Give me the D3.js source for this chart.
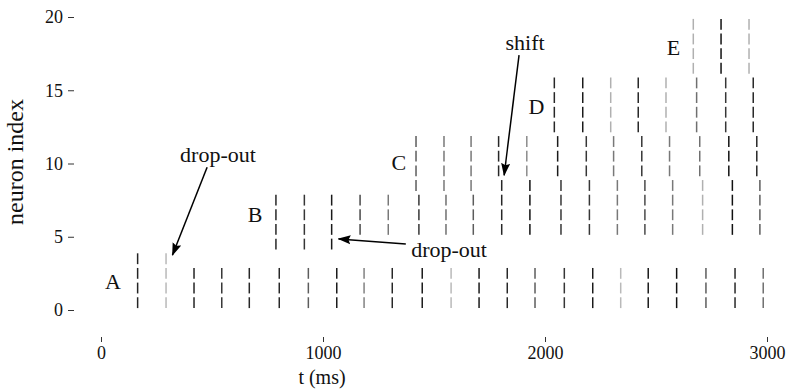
<!DOCTYPE html>
<html>
<head>
<meta charset="utf-8">
<script src="https://cdn.jsdelivr.net/npm/d3@7"></script>
<style>
  html, body { margin: 0; padding: 0; background: #fff; }
  svg { display: block; }
  svg text { font-family: "Liberation Serif", "DejaVu Serif", serif; }
</style>
</head>
<body>
<svg id="chart" width="790" height="392"></svg>
<script>
// Spike times (ms) of each synchronous group and the strength of every volley
const groupNames = ["A", "B", "C", "D", "E"];

const spikesA = [165, 293, 419, 544, 668, 803, 934, 1062, 1185, 1312, 1447, 1577,
                 1703, 1830, 1955, 2087, 2215, 2341, 2465, 2593, 2725, 2856, 2983];
const strengthA = [0.9, 0.1, 0.9, 0.8, 0.88, 0.88, 0.6, 0.95, 0.4, 0.88, 0.95, 0.1,
                   0.95, 0.88, 0.6, 0.8, 0.95, 0.1, 0.95, 1.0, 0.6, 0.88, 0.5];

const spikesB = [788, 916, 1039, 1167, 1294, 1432, 1554, 1677, 1805, 1932, 2072,
                 2200, 2326, 2450, 2575, 2710, 2844, 2968];
const strengthB = [0.88, 0.8, 0.95, 0.7, 0.45, 0.8, 0.5, 0.6, 0.88, 1.0, 0.8,
                   0.8, 0.45, 0.7, 0.45, 0.15, 1.0, 0.6];

const spikesC = [1419, 1545, 1667, 1791, 1918, 2057, 2186, 2309, 2436, 2561, 2697, 2828, 2954];
const strengthC = [0.6, 0.45, 0.45, 0.88, 0.35, 0.95, 0.8, 0.45, 0.8, 0.45, 0.5, 1.0, 0.88];

const spikesD = [2042, 2170, 2296, 2420, 2545, 2683, 2814, 2938];
const strengthD = [0.88, 0.95, 0.15, 0.88, 0.15, 0.5, 0.8, 0.88];

const spikesE = [2668, 2793, 2919];
const strengthE = [0.15, 1.0, 0.15];

// Which group each neuron follows, and during which time window (ms)
const membership = [
  { neuron: 0, group: "A" }, { neuron: 1, group: "A" }, { neuron: 2, group: "A" },
  { neuron: 3, group: "A", until: 350 },            // drop-out
  { neuron: 4, group: "B", until: 1100 },           // drop-out
  { neuron: 5, group: "B" }, { neuron: 6, group: "B" }, { neuron: 7, group: "B" },
  { neuron: 8, group: "C", until: 1750 },           // shift ...
  { neuron: 8, group: "B", from: 1750 },            // ... onto group B
  { neuron: 9, group: "C" }, { neuron: 10, group: "C" }, { neuron: 11, group: "C" },
  { neuron: 12, group: "D" }, { neuron: 13, group: "D" }, { neuron: 14, group: "D" }, { neuron: 15, group: "D" },
  { neuron: 16, group: "E" }, { neuron: 17, group: "E" }, { neuron: 18, group: "E" }, { neuron: 19, group: "E" }
];

const xTicks = [0, 1000, 2000, 3000];
const yTicks = [0, 5, 10, 15, 20];

// Group letters and arrow notes, in data units (t, neuron index)
const groupLabels = [
  { text: "A", t: 54, n: 1.95 }, { text: "B", t: 694, n: 6.5 }, { text: "C", t: 1342, n: 10.05 },
  { text: "D", t: 1962, n: 13.9 }, { text: "E", t: 2579, n: 17.9 }
];
const notes = [
  { text: "drop-out", t: 527, n: 10.6, from: [478, 9.75], to: [322, 3.75] },
  { text: "drop-out", t: 1568, n: 4.15, from: [1373, 4.5], to: [1070, 4.85] },
  { text: "shift", t: 1910, n: 18.3, from: [1883, 17.4], to: [1816, 9.2] }
];

const groups = {
  A: { t: spikesA, s: strengthA }, B: { t: spikesB, s: strengthB }, C: { t: spikesC, s: strengthC },
  D: { t: spikesD, s: strengthD }, E: { t: spikesE, s: strengthE }
};

const svg = d3.select("#chart");
const x = d3.scaleLinear().domain([0, 3000]).range([101, 767]);
const y = d3.scaleLinear().domain([0, 20]).range([310, 17]);
const shade = d3.scaleLinear().domain([0, 1]).range(["#cccccc", "#111111"]);

// One short vertical tick per neuron per spike
const events = [];
membership.forEach(m => {
  const g = groups[m.group];
  g.t.forEach((t, i) => {
    if (m.until !== undefined && t > m.until) return;
    if (m.from !== undefined && t < m.from) return;
    events.push({ neuron: m.neuron, t, s: g.s[i] });
  });
});

svg.append("g").selectAll("line").data(events).join("line")
  .attr("x1", d => x(d.t)).attr("x2", d => x(d.t))
  .attr("y1", d => y(d.neuron + 0.13)).attr("y2", d => y(d.neuron + 0.87))
  .attr("stroke", d => shade(d.s))
  .attr("stroke-width", 1.5);

// Axes
const yAxis = svg.append("g").attr("transform", "translate(74,0)")
  .call(d3.axisLeft(y).tickValues(yTicks).tickFormat(d3.format("d")).tickSize(6).tickPadding(5));
const xAxis = svg.append("g").attr("transform", "translate(0,337)")
  .call(d3.axisBottom(x).tickValues(xTicks).tickFormat(d3.format("d")).tickSize(5).tickPadding(4));
[yAxis, xAxis].forEach(a => {
  a.attr("font-family", null).attr("font-size", null);
  a.select(".domain").remove();
  a.selectAll(".tick line").attr("stroke", "#333");
  a.selectAll(".tick text").style("font-size", "18px").attr("fill", "#111");
});

svg.append("text").attr("x", 322).attr("y", 384).attr("text-anchor", "middle")
  .style("font-size", "20px").attr("fill", "#111").text("t (ms)");
svg.append("text").attr("transform", "translate(23,162) rotate(-90)").attr("text-anchor", "middle")
  .style("font-size", "24px").attr("fill", "#111").text("neuron index");

// Group letters
svg.append("g").selectAll("text").data(groupLabels).join("text")
  .attr("x", d => x(d.t)).attr("y", d => y(d.n)).attr("dy", "0.35em")
  .attr("text-anchor", "middle").style("font-size", "22px").attr("fill", "#111")
  .text(d => d.text);

// Arrow notes
svg.append("defs").append("marker")
  .attr("id", "head").attr("markerUnits", "userSpaceOnUse")
  .attr("markerWidth", 13).attr("markerHeight", 10).attr("refX", 12).attr("refY", 5)
  .attr("orient", "auto")
  .append("path").attr("d", "M0,0.5 L13,5 L0,9.5 L2,5 Z").attr("fill", "#000");

const noteG = svg.append("g");
noteG.selectAll("line").data(notes).join("line")
  .attr("x1", d => x(d.from[0])).attr("y1", d => y(d.from[1]))
  .attr("x2", d => x(d.to[0])).attr("y2", d => y(d.to[1]))
  .attr("stroke", "#000").attr("stroke-width", 1.5).attr("marker-end", "url(#head)");
noteG.selectAll("text").data(notes).join("text")
  .attr("x", d => x(d.t)).attr("y", d => y(d.n)).attr("dy", "0.35em")
  .attr("text-anchor", "middle").style("font-size", "22px").attr("fill", "#111")
  .text(d => d.text);
</script>
</body>
</html>
